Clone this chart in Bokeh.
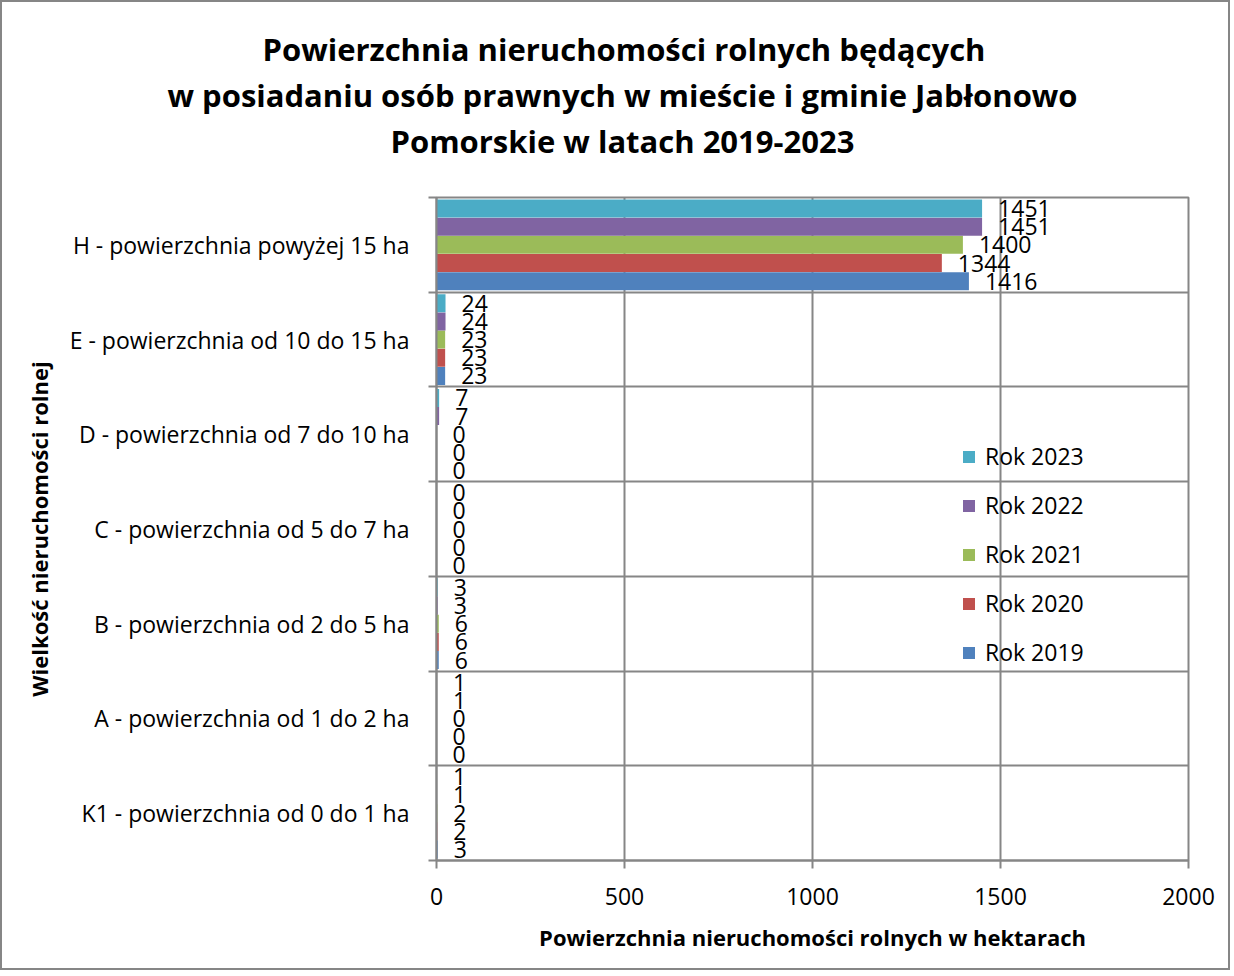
from bokeh.plotting import figure
from bokeh.models import (Range1d, FixedTicker, ColumnDataSource, Legend, LegendItem, Title)
from bokeh.transform import dodge
from bokeh.core.properties import value
from bokeh.embed import file_html
from bokeh.resources import INLINE

categories = [
    "K1 - powierzchnia od 0 do 1 ha",
    "A - powierzchnia od 1 do 2 ha",
    "B - powierzchnia od 2 do 5 ha",
    "C - powierzchnia od 5 do 7 ha",
    "D - powierzchnia od 7 do 10 ha",
    "E - powierzchnia od 10 do 15 ha",
    "H - powierzchnia powyżej 15 ha",
]
years = ["Rok 2019", "Rok 2020", "Rok 2021", "Rok 2022", "Rok 2023"]
rok_2019 = [3, 0, 6, 0, 0, 23, 1416]
rok_2020 = [2, 0, 6, 0, 0, 23, 1344]
rok_2021 = [2, 0, 6, 0, 0, 23, 1400]
rok_2022 = [1, 1, 3, 0, 7, 24, 1451]
rok_2023 = [1, 1, 3, 0, 7, 24, 1451]
series = [rok_2019, rok_2020, rok_2021, rok_2022, rok_2023]
colors = ["#4F81BD", "#C0504D", "#9BBB59", "#8064A2", "#4BACC6"]
x_ticks = [0, 500, 1000, 1500, 2000]
title_lines = [
    "Powierzchnia nieruchomości rolnych będących",
    "w posiadaniu osób prawnych w mieście i gminie Jabłonowo",
    "Pomorskie w latach 2019-2023",
]

FONT = "Open Sans"
GRID = "#868686"

p = figure(width=1230, height=970, output_backend="svg", toolbar_location=None,
           x_range=Range1d(0, 2000), y_range=Range1d(0, len(categories)),
           min_border_left=434, min_border_right=44, min_border_bottom=112, min_border_top=195)
p.styles = {"border": "2px solid #868686"}
p.outline_line_color = GRID
p.outline_line_width = 2
p.outline_line_alpha = 1
p.background_fill_color = "white"
p.border_fill_color = "white"

# spacer between the plot frame and the title block
p.add_layout(Title(text=" ", text_font_size="1px", standoff=32), "above")
# title lines: panels stack upward from the plot, so add the last line first
title_offsets = [-174, -269, -46]
for k in range(len(title_lines) - 1, -1, -1):
    p.add_layout(Title(text=title_lines[k], align="left", offset=title_offsets[k], standoff=2,
                       text_font=FONT, text_font_size="31px", text_font_style="bold",
                       text_color="black"), "above")

pos = [i + 0.5 for i in range(len(categories))]
offsets = [-0.384, -0.192, 0.0, 0.192, 0.384]
bh = 0.19

renderers = []
for j, (vals, col) in enumerate(zip(series, colors)):
    src = ColumnDataSource(dict(pos=pos, val=vals))
    r = p.hbar(y=dodge("pos", offsets[j]), right="val", left=0, height=bh,
               fill_color=col, line_color=None, source=src)
    renderers.append(r)

for j, vals in enumerate(series):
    src = ColumnDataSource(dict(pos=pos, val=vals, lbl=[str(v) for v in vals]))
    p.text(x="val", y=dodge("pos", offsets[j]), text="lbl", source=src,
           x_offset=16, text_baseline="middle", text_align="left",
           text_font=value(FONT), text_font_size="23px", text_color="black")

# grids
p.xgrid.ticker = FixedTicker(ticks=x_ticks)
p.xgrid.grid_line_color = GRID
p.xgrid.grid_line_width = 2
p.ygrid.ticker = FixedTicker(ticks=list(range(len(categories) + 1)))
p.ygrid.grid_line_color = GRID
p.ygrid.grid_line_width = 2

# y axis
ya = p.yaxis[0]
ya.ticker = FixedTicker(ticks=pos, minor_ticks=list(range(len(categories) + 1)))
ya.major_label_overrides = {pv: c for pv, c in zip(pos, categories)}
ya.major_tick_out = 0
ya.major_tick_in = 0
ya.minor_tick_out = 8
ya.minor_tick_in = 0
ya.minor_tick_line_color = GRID
ya.minor_tick_line_width = 2
ya.axis_line_color = GRID
ya.axis_line_width = 2
ya.major_label_standoff = 19
ya.major_label_text_font = FONT
ya.major_label_text_font_size = "23px"
ya.major_label_text_color = "black"
ya.axis_label = "Wielkość nieruchomości rolnej"
ya.axis_label_text_font = FONT
ya.axis_label_text_font_size = "22px"
ya.axis_label_text_font_style = "bold"
ya.axis_label_text_color = "black"
ya.axis_label_standoff = 13

xa = p.xaxis[0]
xa.ticker = FixedTicker(ticks=x_ticks)
xa.major_tick_out = 8
xa.major_tick_in = 0
xa.major_tick_line_color = GRID
xa.major_tick_line_width = 2
xa.minor_tick_line_color = None
xa.axis_line_color = GRID
xa.axis_line_width = 2
xa.major_label_standoff = 19
xa.major_label_text_font = FONT
xa.major_label_text_font_size = "23px"
xa.major_label_text_color = "black"
xa.axis_label = "Powierzchnia nieruchomości rolnych w hektarach"
xa.axis_label_text_font = FONT
xa.axis_label_text_font_size = "22px"
xa.axis_label_text_font_style = "bold"
xa.axis_label_text_color = "black"
xa.axis_label_standoff = 14

items = [LegendItem(label=years[j], renderers=[renderers[j]]) for j in range(4, -1, -1)]
legend = Legend(items=items, location=(525, 192), padding=0, margin=0,
                spacing=17, label_height=24, glyph_height=15, glyph_width=15,
                label_standoff=9, label_text_font=FONT, label_text_font_size="23px",
                label_text_color="black", background_fill_alpha=0, border_line_alpha=0)
p.add_layout(legend, "center")

open("out.html", "w").write(file_html(p, INLINE))
